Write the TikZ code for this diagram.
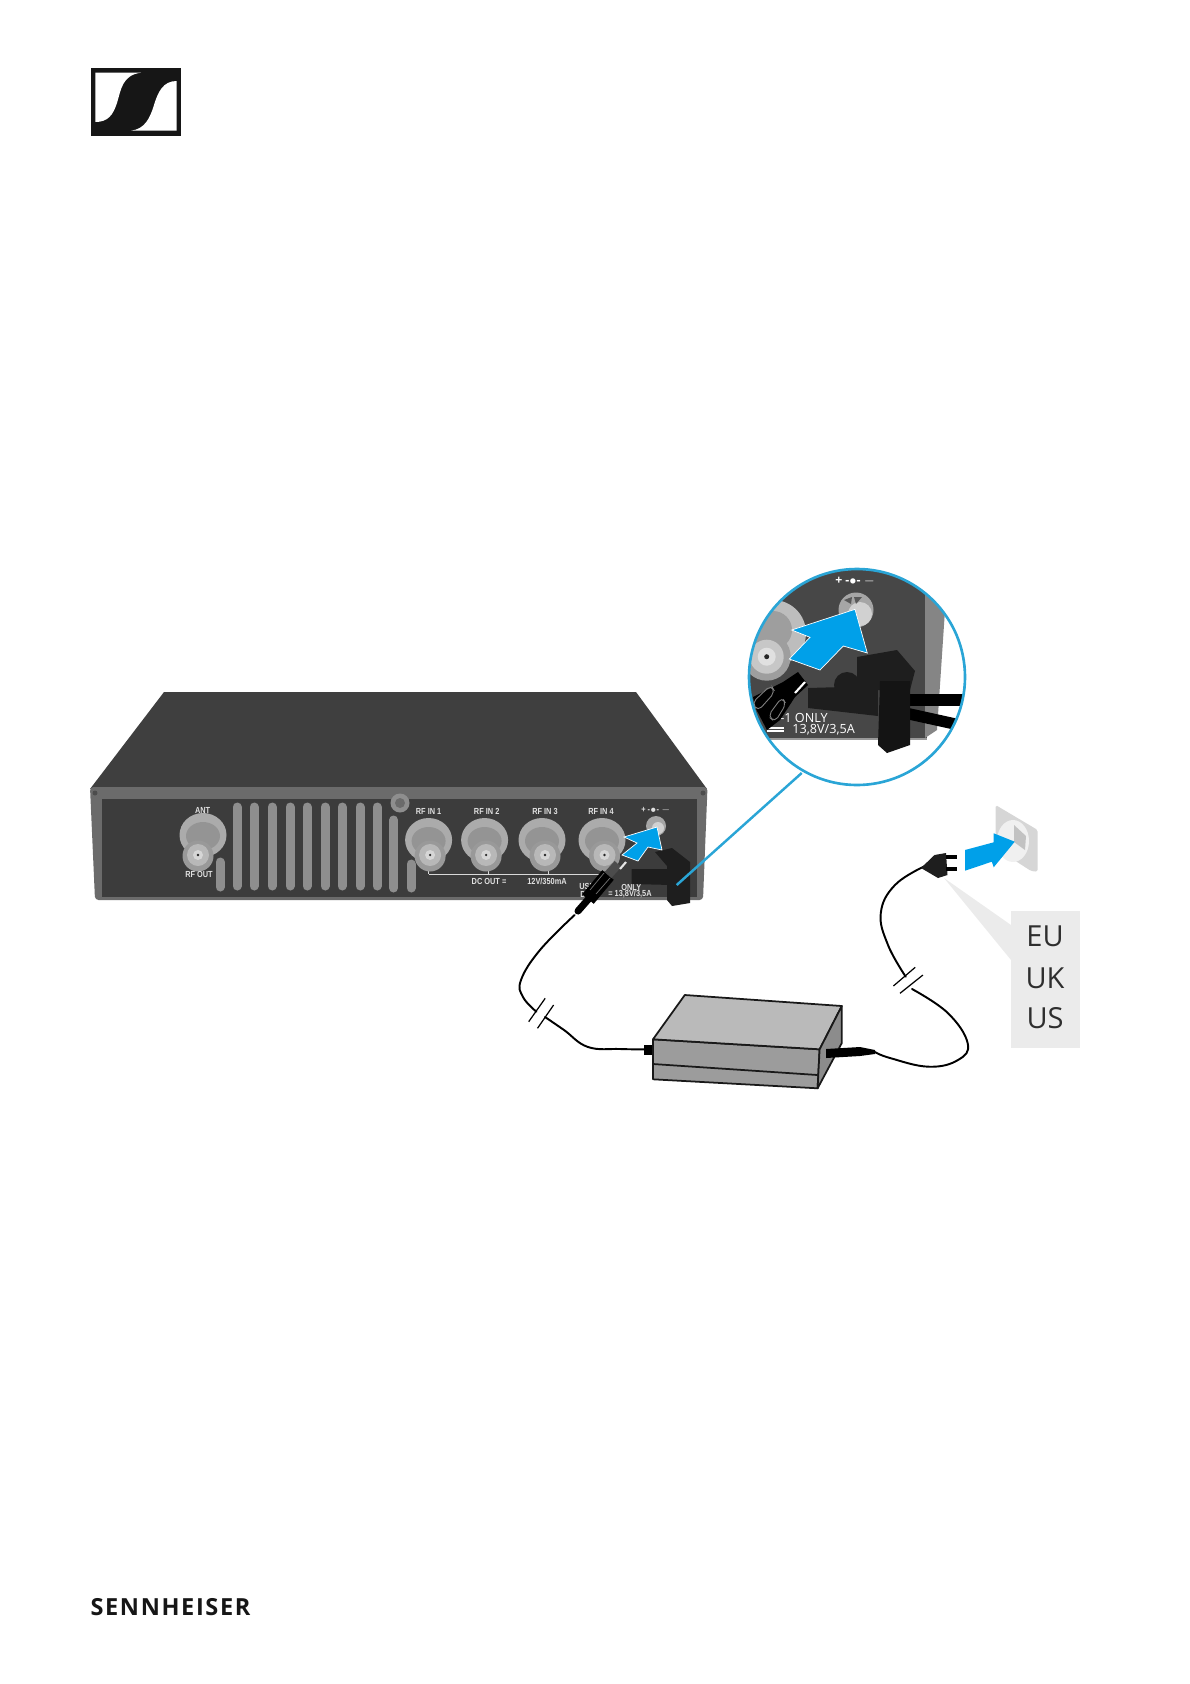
\documentclass[tikz,border=0pt]{standalone}
\usepackage{fontspec}
\setmainfont{Liberation Sans}
\newfontfamily\devfont[FakeStretch=0.84]{Liberation Sans}
\newfontfamily\labelfont{Open Sans}
\newfontfamily\brandfont[LetterSpace=7]{Open Sans}
\usetikzlibrary{positioning,calc}
\definecolor{zoomblue}{HTML}{00A0E9}
\definecolor{ringblue}{HTML}{2AA5D6}
\definecolor{panel}{HTML}{3C3C3C}
\definecolor{bodytop}{HTML}{3F3F3F}
\definecolor{bodyframe}{HTML}{6B6B6B}
\definecolor{slotgrey}{HTML}{8E8E8E}
\definecolor{plugdark}{HTML}{1E1E1E}
\definecolor{psutop}{HTML}{BABABA}
\definecolor{psufront}{HTML}{9C9C9C}
\definecolor{psuside}{HTML}{8C8C8C}
\definecolor{calloutgrey}{HTML}{EBEBEB}
\definecolor{logoblack}{HTML}{161616}

\begin{document}
\begin{tikzpicture}[
  x=0.02cm,y=-0.02cm,
  slot/.style={line width=9*0.02cm,line cap=round,draw=slotgrey},
  devlbl/.style={font=\devfont\fontsize{5}{6}\selectfont\bfseries,text=white!88!black,inner sep=0pt},
  zoomlbl/.style={font=\labelfont\fontsize{7.2}{8}\selectfont,text=white,inner sep=0pt},
  region/.style={font=\labelfont\fontsize{16.5}{18}\selectfont,text=black!82,inner sep=0pt},
  cable/.style={line width=1.1pt,draw=black,line cap=round},
  plugblack/.style={fill=plugdark,draw=none},
  bluearrow/.style={fill=zoomblue,draw=white,line width=0.4pt,line join=miter},
  psuface/.style={draw=black!90,line width=1pt,line join=round}
]
\useasboundingbox (0,0) rectangle (1190,1684);
% logo
\fill[logoblack] (90.7,67.7) rectangle (181,135.7);
\fill[white] (95.3,72.7) -- (141,72.7) .. controls (122,75) and (121,90) .. (117,103)
  .. controls (113,115) and (108,122) .. (95.3,122) -- cycle;
\fill[white] (176.7,81) -- (176.7,130.7) -- (131,130.7) .. controls (145,129) and (150,118) .. (154,105)
  .. controls (158,92) and (163,81) .. (176.7,81) -- cycle;
\node[font=\brandfont\bfseries\fontsize{13.4}{15}\selectfont,text=logoblack,inner sep=0pt] (brand) at (170.5,1607.5) {SENNHEISER};
% receiver
\fill[bodytop] (164,692) -- (636,692) -- (707,789) -- (90,789) -- cycle;
\fill[bodyframe,rounded corners=2pt] (90,787) -- (707.5,787) -- (703,900) -- (95,900) -- cycle;
\fill[panel] (101.6,799) rectangle (697,897);
\fill[black!70] (95,793) circle (2.5) (703,793) circle (2.5);
% vent slots
\foreach \sx in {237,254,272,290,307,325,342,360,377}
  \draw[slot] (\sx,807) -- (\sx,886);
\draw[slot] (220,862) -- (220,887);
\draw[slot] (393.6,820) -- (393.6,888);
\draw[slot] (411,864) -- (411,888);
% screw
\fill[slotgrey] (400,803) circle (9.5);
\fill[black!58] (400,803) circle (5);
% rf connectors
\draw[white!85!black,line width=0.6pt] (428.6,874.3) -- (600,874.3)
  (428.6,868) -- (428.6,874.3) (488.8,870) -- (488.8,874.3) (548.5,870) -- (548.5,874.3);
\foreach \cx/\cy/\dx in {203/835/-5,428.6/840/1.5,484.6/840/1.5,542/840/3,602/840/2.5}{
  \fill[black!33] (\cx,\cy) ellipse (23.5 and 22);
  \fill[black!42] (\cx,\cy+1) ellipse (17 and 14);
  \fill[black!40] (\cx+\dx,856) circle (15.5);
  \fill[black!28] (\cx+\dx,855) circle (11);
  \fill[black!16] (\cx+\dx,855) circle (5);
  \fill[black!85] (\cx+\dx,855) circle (1.3);
}
\node[devlbl] (ant) at (202.6,810.7) {ANT};
\node[devlbl] (rfout) at (199,874) {RF OUT};
\foreach \lx/\ln in {428.6/1,486.7/2,545/3,601/4}
  \node[devlbl] (rfin\ln) at (\lx,811) {RF IN \ln};
\node[devlbl] (dcout) at (489,881.7) {DC OUT =};
\node[devlbl] (amps) at (547,881.7) {12V/350mA};
\node[devlbl,anchor=west] (use) at (579,886) {USE};
\node[devlbl,anchor=west] (only) at (621,887) {ONLY};
\node[devlbl,anchor=west] (dc) at (580,894.5) {DC};
\node[devlbl,anchor=west] (volts) at (608,894) {= 13,8V/3,5A};
% dc socket
\node[devlbl] (pol) at (656,810.7) {+ -$\bullet$- $-$};
\fill[black!35] (656,826) circle (10);
\fill[black!18] (658,828) circle (6);
% plug in socket
\fill[plugblack] (631.7,869) -- (672,869) -- (672,885) -- (631.7,884) -- cycle;
\fill[plugblack] (655,852) -- (672,848) -- (690,862) -- (690,903) -- (672,906) -- (667,900) -- (667,866) -- cycle;
\draw[black,line width=15*0.02cm] (588,899) -- (608,875);
\draw[black!70,line width=9*0.02cm] (608,875) -- (618,864);
\draw[black!55,line width=0.4pt] (590,890) -- (604,873) (596,894) -- (610,878);
\draw[white!90!black,line width=1.2pt] (620,869) -- (626,862);
\fill[bluearrow] (657,827) -- (624,837) -- (637,843) -- (622,855) -- (638,861) -- (648,847) -- (662,850) -- cycle;
% psu cable left
\coordinate (devtail) at (574.6,915);
\coordinate (breakla) at (536.4,1011.7);
\coordinate (breaklb) at (545,1017);
\coordinate (psuleft) at (645,1049.3);
\draw[black,line width=4pt,line cap=round] (578,911) -- (592,895);
\draw[cable] plot[smooth,tension=0.7] coordinates {(devtail) (540,950) (521,980) (523,997) (breakla)};
\draw[cable] plot[smooth,tension=0.7] coordinates {(breaklb) (564,1030) (588,1047) (620,1049) (psuleft)};
\draw[line width=0.7pt] (528.7,1021.7) -- (545.2,998.3) (537.5,1028.3) -- (553.6,1005);
\fill[black] (643.5,1045) rectangle (653,1055);
% psu cable right
\coordinate (psuright) at (875,1052);
\coordinate (breakra) at (912,989);
\coordinate (breakrb) at (905.7,976.7);
\coordinate (mainsplug) at (925,866);
\draw[cable] plot[smooth,tension=0.7] coordinates {(psuright) (890,1058) (928.6,1066.7) (958,1060) (967.7,1043.3) (947.8,1013) (breakra)};
\draw[cable] plot[smooth,tension=0.7] coordinates {(breakrb) (888,945) (880.8,913) (895,885) (mainsplug)};
\draw[line width=0.7pt] (893.4,986) -- (915.2,967.3) (900,993.3) -- (922.9,975);
% power supply
\fill[psufront,psuface] (653,1039.3) -- (819.6,1049.3) -- (817.6,1088.3) -- (653,1079.3) -- cycle;
\fill[psutop,psuface] (684.8,995) -- (841.8,1006) -- (819.6,1049.3) -- (653,1039.3) -- cycle;
\fill[psuside,psuface] (841.8,1006) -- (841.8,1043) -- (817.6,1088.3) -- (819.6,1049.3) -- cycle;
\draw[psuface] (653,1064) -- (817.6,1075);
\fill[black] (826,1049) -- (860,1047) -- (875,1050) -- (875,1054) -- (860,1056) -- (826,1058) -- cycle;
% mains callout
\fill[calloutgrey] (944,878) -- (1011,925) -- (1011,960) -- cycle;
\node[fill=calloutgrey,minimum width=69*0.02cm,minimum height=137.6*0.02cm,inner sep=0pt] (regions) at (1045.4,979.5) {};
\node[region] (eu) at (1045,936.7) {EU};
\node[region] (uk) at (1045,978) {UK};
\node[region] (us) at (1045,1018) {US};
% wall socket and mains plug
\fill[black!16,rounded corners=1pt] (995.6,805) -- (1037.7,830) -- (1037.7,871.7) -- (1031,871) -- (995.6,848) -- cycle;
\fill[black!6] (1013,841) ellipse (16 and 21);
\fill[black!24] (1014,825) -- (1026,836) -- (1025,850) -- (1014,842) -- cycle;
\fill[plugblack] (921,868) -- (934.5,855) -- (946,853) -- (947.5,875) -- (938,878) -- cycle;
\draw[black,line width=4*0.02cm] (946,857) -- (957,857) (946,869) -- (957,869);
\fill[bluearrow,draw=none] (965,850) -- (993.7,842.3) -- (993.7,833.3) -- (1014.7,841.7) -- (993.7,867.3) -- (991.8,861.7) -- (965,870.7) -- cycle;
% detail view
\draw[ringblue,line width=1.4pt] (676.7,885) -- (801.7,773);
\fill[white] (857,677) circle (108);
\begin{scope}
\clip (857,677) circle (108);
\fill[black!72] (740,560) rectangle (927,738);
\fill[black!40] (740,738) rectangle (927,740);
\fill[black!48] (925,590) -- (945,610) -- (937,730) -- (925,738) -- cycle;
% coax in view
\fill[black!26] (773,633) circle (33);
\fill[black!38] (773,630) circle (19);
\fill[black!38] (766.7,656.7) circle (24);
\fill[black!22] (766.7,656.7) circle (17);
\fill[black!12] (766.7,656.7) circle (9);
\fill[black!85] (766.7,656.7) circle (2.5);
% socket in view
\fill[black!35] (856,610) circle (17.5);
\fill[black!18] (860,614) circle (12);
\fill[black!65] (844,600) -- (852,597) -- (851,604) -- cycle (854,597) -- (862,597) -- (856,604) -- cycle;
% text in view
\node[zoomlbl,anchor=west] (onlyzoom) at (780,718) {-1 ONLY};
\node[zoomlbl,anchor=west] (voltzoom) at (792,730) {13,8V/3,5A};
\draw[white,line width=0.7pt] (767,728) -- (784,728) (767,731) -- (784,731);
% cables behind plug
\draw[black,line width=6.5pt] (905,700) -- (965,700);
\draw[black,line width=6.5pt] (905,713) -- (955,724);
% plug in view
\fill[plugdark] (808,688) -- (878,686) -- (878,716) -- (808,708) -- cycle;
\fill[plugdark] (857,657) -- (897,650) -- (915,671) -- (910,690) -- (880,690) -- (857,690) -- cycle;
\fill[plugdark] (847,685) circle (13);
\fill[black!92] (880,681) -- (910,681) -- (910,745) -- (887,753) -- (878,745) -- cycle;
% barrel in view
\fill[black] (753,697) -- (783,682) -- (798,672) -- (808,685) -- (795,697) -- (780,720) -- (767,730) -- (755,707) -- cycle;
\draw[black!50,line width=0.5pt,rounded corners=3pt] (752,703) -- (771,685) -- (775,692) -- (758,711) -- cycle;
\draw[black!50,line width=0.5pt,rounded corners=3pt] (768,716) -- (782,697) -- (786,704) -- (775,722) -- cycle;
\draw[white,line width=1.2pt] (795,693) -- (805,682);
\fill[bluearrow] (855,609.3) -- (791.7,630) -- (810,637.3) -- (789.3,659) -- (820,670) -- (843.3,646) -- (867.3,653) -- cycle;
\end{scope}
\node[font=\labelfont\bfseries\fontsize{7}{8}\selectfont,text=white,inner sep=0pt] (polzoom) at (855,581.7) {+ -$\bullet$- $-$};
\draw[ringblue,line width=1.5pt] (857,677) circle (108);
\end{tikzpicture}
\end{document}
